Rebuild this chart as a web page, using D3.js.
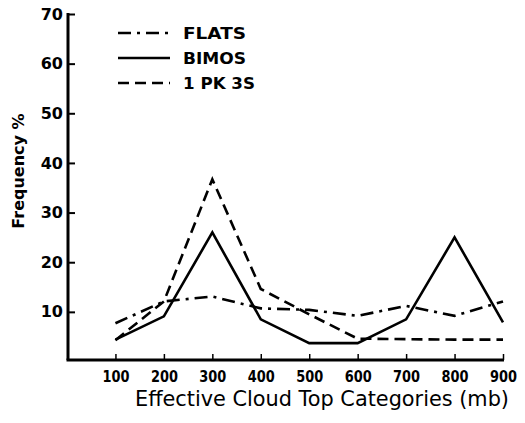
<!DOCTYPE html>
<html><head><meta charset="utf-8">
<script src="https://cdn.jsdelivr.net/npm/d3@7"></script>
<style>body{margin:0;background:#fff}svg{display:block}text{font-family:"DejaVu Sans",sans-serif;fill:#000}</style>
</head><body><svg id="c" width="525" height="423"></svg>
<script>
const categories = [100,200,300,400,500,600,700,800,900];
const flats = [7.7,12.1,13.1,10.7,10.4,9.2,11.2,9.2,12.1];
const bimos = [4.4,9.1,26,8.5,3.7,3.7,8.5,25,7.9];
const pk3s = [4.3,12.1,36.7,14.6,9.5,4.6,4.5,4.4,4.4];
const yTicks = [10,20,30,40,50,60,70];
const seriesNames = ["FLATS","BIMOS","1 PK 3S"];

const svg = d3.select("#c");
const x = d3.scaleLinear().domain([0,900]).range([67,503]);
const y = d3.scaleLinear().domain([0,70]).range([361.5,14]);

// axes
const yAxis = d3.axisLeft(y).tickValues(yTicks).tickSize(-7).tickPadding(12).tickFormat(d3.format("d"));
const gy = svg.append("g").attr("transform","translate(68,0)").call(yAxis);
gy.select(".domain").remove();
gy.selectAll(".tick line").attr("stroke","#000").attr("stroke-width",2);
gy.selectAll(".tick text").attr("font-size",16).attr("font-weight","bold").attr("x",-5).attr("text-anchor","end");
svg.append("line").attr("x1",68).attr("x2",68).attr("y1",y(70)-1).attr("y2",360).attr("stroke","#000").attr("stroke-width",3);

const xAxis = d3.axisBottom(x).tickValues(categories).tickSize(-6).tickFormat(d3.format("d"));
const gx = svg.append("g").attr("transform","translate(0,360)").call(xAxis);
gx.select(".domain").remove();
gx.selectAll(".tick line").attr("stroke","#000").attr("stroke-width",1.5);
gx.selectAll(".tick text").attr("font-size",15).attr("font-weight","bold").attr("y",22).attr("dy",0)
  .attr("textLength",27).attr("lengthAdjust","spacingAndGlyphs");
svg.append("line").attr("x1",66.5).attr("x2",x(900)+1).attr("y1",360).attr("y2",360).attr("stroke","#000").attr("stroke-width",3);

// labels
svg.append("text").attr("x",322).attr("y",406).attr("text-anchor","middle").attr("font-size",21)
  .attr("textLength",374).attr("lengthAdjust","spacingAndGlyphs").text("Effective Cloud Top Categories (mb)");
svg.append("text").attr("transform","translate(24,171) rotate(-90)").attr("text-anchor","middle")
  .attr("font-size",16).attr("font-weight","bold").text("Frequency %");

// lines
const line = d3.line().x((d,i)=>x(categories[i])).y(d=>y(d));
const styles = [
  {data:flats, dash:"13,6,3,6"},
  {data:bimos, dash:null},
  {data:pk3s, dash:"11,6"}
];
styles.forEach(s=>{
  const p = svg.append("path").datum(s.data).attr("d",line).attr("fill","none")
    .attr("stroke","#000").attr("stroke-width",2.6).attr("stroke-linejoin","miter");
  if(s.dash) p.attr("stroke-dasharray",s.dash);
});

// legend
const ly = [33,58,83];
const lw = [63,63,72];
seriesNames.forEach((n,i)=>{
  const l = svg.append("line").attr("x1",118).attr("x2",170).attr("y1",ly[i]).attr("y2",ly[i])
    .attr("stroke","#000").attr("stroke-width",2.6);
  if(styles[i].dash) l.attr("stroke-dasharray", i===0 ? "13,6,3,6" : "11,6");
  svg.append("text").attr("x",183).attr("y",ly[i]).attr("dy","0.36em").attr("font-size",16.5)
    .attr("font-weight","bold").attr("textLength",lw[i]).attr("lengthAdjust","spacingAndGlyphs").text(n);
});
</script></body></html>
